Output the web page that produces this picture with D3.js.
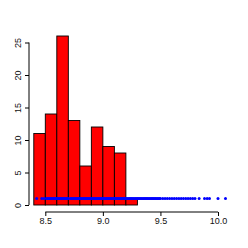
<!DOCTYPE html>
<html>
<head>
<meta charset="utf-8">
<script src="https://cdn.jsdelivr.net/npm/d3@7"></script>
<style>
html,body{margin:0;padding:0;background:#fff;}
svg{display:block;}
</style>
</head>
<body>
<svg id="chart" width="248" height="248"></svg>
<script>
// Histogram bins (left edges) and counts
const binEdges = [8.4, 8.5, 8.6, 8.7, 8.8, 8.9, 9.0, 9.1, 9.2, 9.3];
const binCounts = [11, 14, 26, 13, 6, 12, 9, 8, 1];
// Blue points (x values, all drawn at y = 1)
const pointX = [8.425, 8.469, 8.489,
  8.51, 8.52, 8.53, 8.54, 8.55, 8.56, 8.57, 8.58, 8.59, 8.60, 8.61, 8.62, 8.63, 8.64, 8.65, 8.66, 8.67, 8.68, 8.69, 8.70,
  8.72, 8.73, 8.74, 8.75, 8.76, 8.77, 8.78, 8.79, 8.80, 8.81, 8.82, 8.83, 8.84, 8.85, 8.86, 8.87, 8.88, 8.89, 8.90,
  8.91, 8.92, 8.93, 8.94, 8.95, 8.96, 8.97, 8.98, 8.99, 9.00, 9.01, 9.02, 9.03, 9.04, 9.05, 9.06, 9.07, 9.08, 9.09, 9.10,
  9.11, 9.12, 9.13, 9.14, 9.15, 9.16, 9.17, 9.18, 9.19, 9.20, 9.21, 9.22, 9.23, 9.24, 9.25, 9.26, 9.27, 9.28, 9.29, 9.30,
  9.31, 9.32, 9.33, 9.34, 9.35, 9.36, 9.37, 9.38, 9.39, 9.40, 9.41, 9.42, 9.43, 9.44, 9.45, 9.46, 9.47, 9.48, 9.49, 9.50,
  9.52, 9.54, 9.56, 9.58, 9.60, 9.62, 9.64, 9.66, 9.68, 9.70,
  9.72, 9.74, 9.76, 9.78, 9.80, 9.836, 9.883, 9.906, 9.926, 10.0, 10.065];
const pointY = 1;
const xTicks = [8.5, 9.0, 9.5, 10.0];
const xTickLabels = ["8.5", "9.0", "9.5", "10.0"];
const yTicks = [0, 5, 10, 15, 20, 25];

const svg = d3.select("#chart");
const x = d3.scaleLinear().domain([8.5, 10.0]).range([45.3, 218]);
const y = d3.scaleLinear().domain([0, 25]).range([205, 42.5]);

const bins = binCounts.map((c, i) => ({x0: binEdges[i], x1: binEdges[i + 1], c}));

svg.append("g").selectAll("rect").data(bins).join("rect")
  .attr("x", d => x(d.x0))
  .attr("width", d => x(d.x1) - x(d.x0))
  .attr("y", d => y(d.c))
  .attr("height", d => y(0) - y(d.c))
  .attr("fill", "#ff0000")
  .attr("stroke", "#000")
  .attr("stroke-width", 0.9);

svg.append("g").selectAll("circle").data(pointX).join("circle")
  .attr("cx", d => x(d))
  .attr("cy", y(pointY))
  .attr("r", 1.5)
  .attr("fill", "#0000ff");

// X axis
const xAxis = d3.axisBottom(x).tickValues(xTicks)
  .tickFormat((d, i) => xTickLabels[i]).tickSize(4).tickPadding(2).tickSizeOuter(0);
const gx = svg.append("g").attr("transform", "translate(0,212)").call(xAxis);
gx.select(".domain").attr("d", `M${x(8.5)},0H${x(10.0)}`).attr("stroke", "#000");
gx.selectAll("text").attr("font-family", "Liberation Sans, Arial, sans-serif")
  .attr("font-size", 9).attr("fill", "#111");

// Y axis
const yAxis = d3.axisLeft(y).tickValues(yTicks).tickSize(4).tickPadding(2).tickSizeOuter(0);
const gy = svg.append("g").attr("transform", "translate(29,0)").call(yAxis);
gy.select(".domain").attr("d", `M0,${y(0)}V${y(25)}`).attr("stroke", "#000");
gy.selectAll(".tick text")
  .attr("font-family", "Liberation Sans, Arial, sans-serif")
  .attr("font-size", 9).attr("fill", "#111")
  .attr("text-anchor", "middle")
  .attr("x", 0).attr("dy", 0)
  .attr("transform", "translate(-8,0) rotate(-90)")
  .attr("y", 0);
</script>
</body>
</html>
